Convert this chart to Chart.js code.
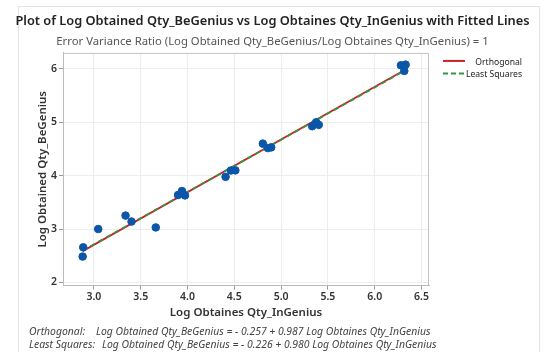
<!DOCTYPE html>
<html>
<head>
<meta charset="utf-8">
<script src="https://cdn.jsdelivr.net/npm/chart.js@4.4.0/dist/chart.umd.min.js"></script>
<style>
  body { margin: 0; background: #fff; }
  .frame { position: absolute; left: 18px; top: 6px; width: 520px; height: 360px; border: 1px solid #e4e4e4; }
  #grafico { position: absolute; left: 0; top: 0; }
</style>
</head>
<body>
<div class="frame"></div>
<canvas id="grafico" width="545" height="352"></canvas>
<script>
// dados
var xInGenius = [2.886, 2.88, 3.046, 3.338, 3.402, 3.661, 3.899, 3.941, 3.973, 4.407, 4.464, 4.511,
                 4.805, 4.858, 4.894, 5.332, 5.374, 5.402, 6.28, 6.33, 6.316];
var yBeGenius = [2.657, 2.484, 3.0, 3.252, 3.14, 3.03, 3.637, 3.712, 3.63, 3.978, 4.097, 4.10,
                 4.60, 4.517, 4.53, 4.926, 5.0, 4.952, 6.068, 6.08, 5.963];

// retas ajustadas (pontas)
var linhaX = [2.88, 6.33];
var ortogonalY = [2.586, 5.991];
var minimosY = [2.596, 5.977];

var legendas = ['Orthogonal', 'Least Squares'];
var rodape = [
    ['Orthogonal:', 'Log Obtained Qty_BeGenius = - 0.257 + 0.987 Log Obtaines Qty_InGenius'],
    ['Least Squares:', 'Log Obtained Qty_BeGenius = - 0.226 + 0.980 Log Obtaines Qty_InGenius']
];

var vermelho = '#cc1f26';
var verde = '#35963f';
var azul = '#0b56a8';
var fonte = "'Noto Sans', sans-serif";

function pares(xs, ys) {
    return xs.map((x, i) => ({ x: x, y: ys[i] }));
}

const extras = {
    id: 'extras',
    afterDraw(chart) {
        const ctx = chart.ctx;
        const a = chart.chartArea;
        ctx.save();
        // moldura do grafico
        ctx.strokeStyle = '#c4c4c4';
        ctx.lineWidth = 1;
        ctx.beginPath();
        ctx.moveTo(a.left, a.top + 0.5);
        ctx.lineTo(a.right - 0.5, a.top + 0.5);
        ctx.lineTo(a.right - 0.5, a.bottom);
        ctx.stroke();

        // legenda
        ctx.font = '8.6px ' + fonte;
        ctx.fillStyle = '#222';
        ctx.textAlign = 'right';
        ctx.textBaseline = 'middle';
        var cores = [vermelho, verde];
        var tracos = [[], [5, 3]];
        legendas.forEach((txt, i) => {
            var y = a.top + 8 + i * 12.5;
            ctx.strokeStyle = cores[i];
            ctx.lineWidth = 2;
            ctx.setLineDash(tracos[i]);
            ctx.beginPath();
            ctx.moveTo(a.right + 14, y);
            ctx.lineTo(a.right + 36, y);
            ctx.stroke();
            ctx.setLineDash([]);
            ctx.fillText(txt, a.right + 93, y + 1.5);
        });

        // rodape
        ctx.font = 'italic 10.4px ' + fonte;
        ctx.fillStyle = '#444';
        ctx.textAlign = 'left';
        rodape.forEach((linha, i) => {
            var y = 332 + i * 13;
            ctx.fillText(linha[0], 29, y);
            ctx.fillText(linha[1], i === 0 ? 96 : 102, y);
        });
        ctx.restore();
    }
};

new Chart(document.getElementById('grafico'), {
    type: 'scatter',
    data: {
        datasets: [{
            label: 'Dados',
            data: pares(xInGenius, yBeGenius),
            backgroundColor: azul,
            borderColor: azul,
            pointRadius: 3.8,
            order: 0
        }, {
            label: legendas[0],
            data: pares(linhaX, ortogonalY),
            showLine: true,
            borderColor: vermelho,
            borderWidth: 1.8,
            pointRadius: 0,
            order: 2
        }, {
            label: legendas[1],
            data: pares(linhaX, minimosY),
            showLine: true,
            borderColor: verde,
            borderWidth: 1.8,
            borderDash: [5, 4],
            pointRadius: 0,
            order: 1
        }]
    },
    options: {
        responsive: false,
        animation: false,
        devicePixelRatio: 1,
        layout: { padding: { left: 0, right: 0, bottom: 32 } },
        plugins: {
            legend: { display: false },
            tooltip: { enabled: false },
            title: {
                display: true,
                text: 'Plot of Log Obtained Qty_BeGenius vs Log Obtaines Qty_InGenius with Fitted Lines',
                color: '#222',
                font: { family: fonte, size: 12.8, weight: '600' },
                padding: { top: 14, bottom: 6 }
            },
            subtitle: {
                display: true,
                text: 'Error Variance Ratio (Log Obtained Qty_BeGenius/Log Obtaines Qty_InGenius) = 1',
                color: '#555',
                font: { family: fonte, size: 11.3 },
                padding: { top: 0, bottom: 4 }
            }
        },
        scales: {
            x: {
                min: 2.67,
                max: 6.58,
                ticks: {
                    stepSize: 0.5,
                    includeBounds: false,
                    padding: 1,
                    color: '#333',
                    font: { family: fonte, size: 10.5, weight: '600' },
                    callback: v => v.toFixed(1)
                },
                grid: { color: '#ededed', tickColor: '#999', tickLength: 4 },
                border: { color: '#bbb' },
                title: {
                    display: true,
                    text: 'Log Obtaines Qty_InGenius',
                    color: '#333',
                    font: { family: fonte, size: 11.5, weight: '600' },
                    padding: { top: 2, bottom: 0 }
                }
            },
            y: {
                min: 1.94,
                max: 6.3,
                afterFit: s => { s.width = 63; },
                ticks: {
                    stepSize: 1,
                    includeBounds: false,
                    padding: 2,
                    color: '#333',
                    font: { family: fonte, size: 10.5, weight: '600' }
                },
                grid: { color: '#ededed', tickColor: '#999', tickLength: 4 },
                border: { color: '#bbb' },
                title: {
                    display: true,
                    text: 'Log Obtained Qty_BeGenius',
                    color: '#333',
                    font: { family: fonte, size: 11.5, weight: '600' },
                    padding: { top: 36, bottom: 0 }
                }
            },
            espaco: {
                position: 'right',
                afterFit: s => { s.width = 116; },
                ticks: { display: false },
                grid: { display: false },
                border: { display: false }
            }
        }
    },
    plugins: [extras]
});
</script>
</body>
</html>
